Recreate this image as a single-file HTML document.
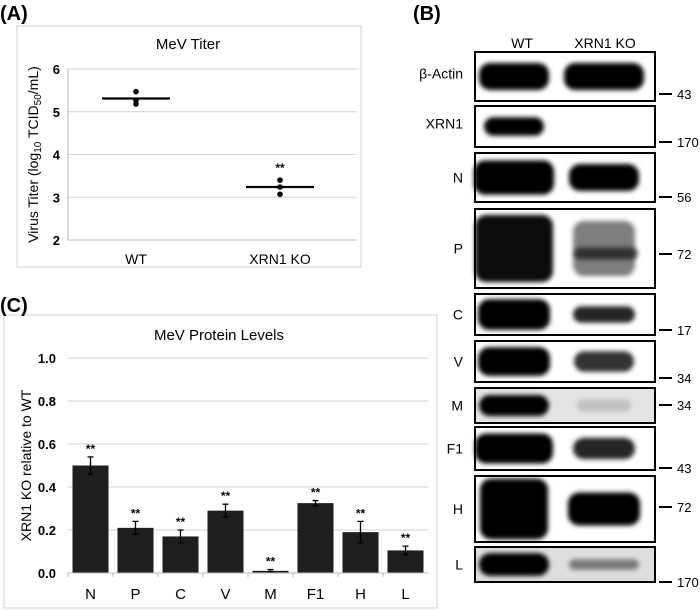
<!DOCTYPE html>
<html><head><meta charset="utf-8"><style>
body{margin:0;background:#fff;width:700px;height:610px;overflow:hidden}
svg{display:block;font-family:"Liberation Sans",sans-serif}
</style></head><body>
<svg id="fig" width="700" height="610">
<defs>
<filter id="blur" x="-20%" y="-50%" width="140%" height="200%"><feGaussianBlur stdDeviation="2.5"/></filter>
</defs>
<text x="0" y="20" font-size="20" font-weight="bold">(A)</text>
<g id="pa"></g>
<g id="pc"></g>
<g id="pb"></g>
<text x="0" y="312" font-size="20" font-weight="bold">(C)</text>
<text x="413" y="20" font-size="20" font-weight="bold">(B)</text>
</svg>
<script>
// Panel A data
const titerCats = ["WT", "XRN1 KO"];
const titerPoints = [[5.47, 5.27, 5.18], [3.40, 3.24, 3.07]];
const titerMeans = [5.31, 3.24];
const titerSig = ["", "**"];
const titerTicks = [2, 3, 4, 5, 6];
// Panel C data
const protCats = ["N", "P", "C", "V", "M", "F1", "H", "L"];
const protVals = [0.50, 0.21, 0.17, 0.29, 0.01, 0.325, 0.19, 0.105];
const protErr = [0.04, 0.03, 0.03, 0.03, 0.006, 0.012, 0.05, 0.02];
const protTicks = [0.0, 0.2, 0.4, 0.6, 0.8, 1.0];
// Panel B labels
const blotNames = ["β-Actin", "XRN1", "N", "P", "C", "V", "M", "F1", "H", "L"];
const blotMarkers = ["43", "170", "56", "72", "17", "34", "34", "43", "72", "170"];

const NS = "http://www.w3.org/2000/svg";
function mk(parent, tag, attrs, text) {
  const e = document.createElementNS(NS, tag);
  for (const k in attrs) e.setAttribute(k, attrs[k]);
  if (text !== undefined) e.textContent = text;
  parent.appendChild(e);
  return e;
}

// ---------- Panel A ----------
(function () {
  const g = document.getElementById("pa");
  const fr = mk(g, "rect", {x: 17, y: 26, width: 344, height: 241, fill: "#fff", stroke: "#d0d0d0", "stroke-width": 1});
  
  
  const L = 68, R = 356, T = 69, B = 240, ymin = 2, ymax = 6;
  const y = v => B - (v - ymin) / (ymax - ymin) * (B - T);
  const bw = (R - L) / titerCats.length;
  const x = i => L + bw * (i + 0.5) - 4;
  const t = mk(g, "text", {x: 188, y: 49, "font-size": 15, "text-anchor": "middle"}, "MeV Titer");
  
  
  titerTicks.forEach(v => {
    const gl = mk(g, "line", {x1: L, x2: R, y1: y(v), y2: y(v), stroke: v === ymin ? "#bbb" : "#d0d0d0"});
    
    
    const tl = mk(g, "text", {x: 60, y: y(v) + 5, "font-size": 13, "font-weight": "bold", "text-anchor": "end"}, String(v));
    
    
  });
  const vl = mk(g, "line", {x1: L, x2: L, y1: T, y2: B, stroke: "#bbb"});
  
  
  const yt = mk(g, "text", {transform: "translate(38," + ((T + B) / 2) + ") rotate(-90)", "font-size": 14, "text-anchor": "middle"});
  
  
  yt.innerHTML = 'Virus Titer (log<tspan font-size="10" dy="3">10</tspan><tspan dy="-3"> TCID</tspan><tspan font-size="10" dy="3">50</tspan><tspan dy="-3">/mL)</tspan>';
  titerCats.forEach((c, i) => {
    const cl = mk(g, "text", {x: x(i), y: 264, "font-size": 14, "text-anchor": "middle"}, c);
    
    
    const m = mk(g, "line", {x1: x(i) - 34, x2: x(i) + 34, y1: y(titerMeans[i]), y2: y(titerMeans[i]), stroke: "#000", "stroke-width": 2.2});
    
    
    titerPoints[i].forEach(v => {
      const p = mk(g, "circle", {cx: x(i), cy: y(v), r: 2.8, fill: "#000"});
      
      
    });
    if (titerSig[i]) {
      const s = mk(g, "text", {x: x(i), y: y(Math.max(...titerPoints[i])) - 8, "font-size": 12, "font-weight": "bold", "text-anchor": "middle"}, titerSig[i]);
      
      
    }
  });
})();

// ---------- Panel C ----------
(function () {
  const g = document.getElementById("pc");
  const fr = mk(g, "rect", {x: 4, y: 315, width: 433, height: 293, fill: "#fff", stroke: "#d0d0d0", "stroke-width": 1});
  
  
  const L = 68, R = 428, T = 358, B = 573, ymin = 0, ymax = 1;
  const y = v => B - (v - ymin) / (ymax - ymin) * (B - T);
  const bw = (R - L) / protCats.length;
  const x = i => L + bw * (i + 0.5);
  const t = mk(g, "text", {x: 219, y: 340, "font-size": 15, "text-anchor": "middle"}, "MeV Protein Levels");
  
  
  protTicks.forEach(v => {
    if (v > 0) {
      const gl = mk(g, "line", {x1: L, x2: R, y1: y(v), y2: y(v), stroke: "#d0d0d0"});
      
      
    }
    const tl = mk(g, "text", {x: 56, y: y(v) + 5, "font-size": 13, "font-weight": "bold", "text-anchor": "end"}, v.toFixed(1));
    
    
  });
  const yt = mk(g, "text", {transform: "translate(31," + ((T + B) / 2) + ") rotate(-90)", "font-size": 14, "text-anchor": "middle"}, "XRN1 KO relative to WT");
  
  
  protCats.forEach((c, i) => {
    const bar = mk(g, "rect", {x: x(i) - 18, y: y(protVals[i]), width: 36, height: B - y(protVals[i]), fill: "#1e1e1e"});
    
    
    const e1 = y(protVals[i] + protErr[i]), e2 = y(protVals[i] - protErr[i]);
    const eb = mk(g, "path", {d: `M${x(i)},${e1}V${e2}M${x(i)-3},${e1}H${x(i)+3}M${x(i)-3},${e2}H${x(i)+3}`, stroke: "#000", "stroke-width": 1.3, fill: "none"});
    
    
    const s = mk(g, "text", {x: x(i), y: e1 - 4, "font-size": 12, "font-weight": "bold", "text-anchor": "middle"}, "**");
    
    
    const cl = mk(g, "text", {x: x(i), y: 599, "font-size": 15, "text-anchor": "middle"}, c);
    
    
    const tk = mk(g, "line", {x1: L + bw * i, x2: L + bw * i, y1: B, y2: B + 4, stroke: "#bbb"});
    
    
  });
  const ax = mk(g, "line", {x1: L, x2: R, y1: B, y2: B, stroke: "#bbb"});
  
  
})();

// ---------- Panel B ----------
(function () {
  const g = document.getElementById("pb");
  const boxes = [[52,101],[106,147],[153,202],[209,288],[294,335],[341,382],[388,423],[427,470],[476,542],[547,582]];
  const markerY = [94,142,197,254,330,378,405,468,507,582];
  // band specs: [wtWidth, wtHeightFrac, wtOpacity, koWidth, koHeightFrac, koOpacity, bg]
  const bands = [
    [70,0.55,1, 80,0.55,1, "#fff"],
    [60,0.45,1, 0,0,0, "#fff"],
    [80,0.7,1, 70,0.55,1, "#fff"],
    [78,0.85,0.95, 62,0.7,0.5, "#fff"],
    [72,0.75,1, 62,0.4,0.85, "#fff"],
    [72,0.7,1, 60,0.5,0.8, "#fff"],
    [70,0.6,1, 55,0.35,0.15, "#e4e4e4"],
    [78,0.7,1, 62,0.5,0.85, "#fff"],
    [68,0.92,1, 72,0.5,1, "#fff"],
    [70,0.65,1, 70,0.3,0.45, "#dedede"]
  ];
  let h1 = mk(g, "text", {x: 522, y: 48, "font-size": 14, "text-anchor": "middle"}, "WT");
  
  
  let h2 = mk(g, "text", {x: 605, y: 48, "font-size": 14, "text-anchor": "middle"}, "XRN1 KO");
  
  
  boxes.forEach((b, i) => {
    const [t, bt] = b, h = bt - t, cy = (t + bt) / 2;
    const bd = bands[i];
    const bx = mk(g, "rect", {x: 475, y: t, width: 180, height: h, fill: bd[6]});
    
    
    const hw = h * bd[1];
    const w1 = mk(g, "rect", {x: 522 - bd[0] / 2 - 8, y: cy - hw / 2, width: bd[0], height: hw, rx: Math.min(hw / 2, 11), fill: "#000", opacity: bd[2], filter: "url(#blur)"});
    
    
    if (bd[3]) {
      const hk = h * bd[4];
      const w2 = mk(g, "rect", {x: 604 - bd[3] / 2, y: cy - hk / 2, width: bd[3], height: hk, rx: Math.min(hk / 2, 11), fill: "#000", opacity: bd[5], filter: "url(#blur)"});
      
      
    }
    if (i === 3) {
      const pb = mk(g, "rect", {x: 574, y: cy - 1, width: 64, height: 12, rx: 6, fill: "#000", opacity: 0.6, filter: "url(#blur)"});
      
      
    }
    const ol = mk(g, "rect", {x: 475, y: t, width: 180, height: h, fill: "none", stroke: "#000", "stroke-width": 2});
    
    
    const nl = mk(g, "text", {x: 463, y: cy + 5 - (i === 1 || i === 0 ? 3 : 0), "font-size": 14, "text-anchor": "end"}, blotNames[i]);
    
    
    const ml = mk(g, "line", {x1: 659, x2: 672, y1: markerY[i], y2: markerY[i], stroke: "#000", "stroke-width": 2});
    
    
    const mt = mk(g, "text", {x: 677, y: markerY[i] + 5, "font-size": 13}, blotMarkers[i]);
    
    
  });
})();
</script>
</body></html>
